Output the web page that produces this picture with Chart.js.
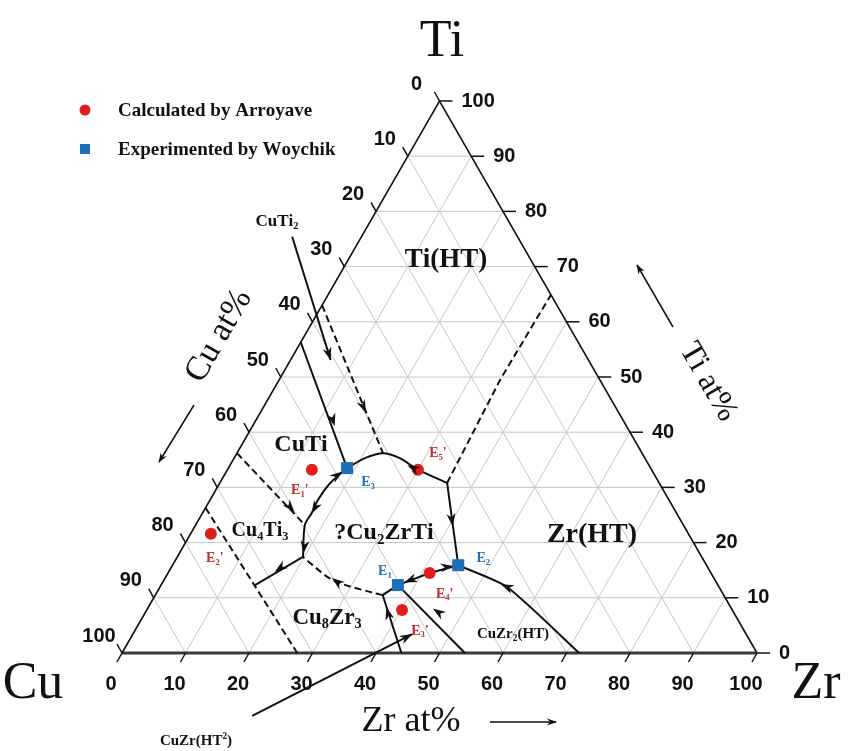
<!DOCTYPE html>
<html>
<head>
<meta charset="utf-8">
<script src="https://cdn.jsdelivr.net/npm/chart.js@4.4.0/dist/chart.umd.min.js"></script>
<style>
  html, body { margin: 0; padding: 0; background: #fff; }
  #wrap { width: 857px; height: 751px; }
</style>
</head>
<body>
<div id="wrap"><canvas id="myChart" width="857" height="751"></canvas></div>
<script>
// ternary Cu-Ti-Zr, every point is [Zr at%, Ti at%] (Cu is the rest)
const ticks = [0, 10, 20, 30, 40, 50, 60, 70, 80, 90, 100];

// phase boundary lines
const cuTiBoundary = [[0, 56.3], [18.7, 33.5]];
const tiHtDashed = [[0, 63], [23, 36.2]];
const upperValley = [[18.7, 33.5], [20.6, 35.3], [23, 36.2], [26.1, 35.3], [30, 33.2], [35.8, 30.8]];
const zrHtDashed = [[35.8, 30.8], [34.8, 49.5], [35.1, 64.9]];
const toE2Line = [[35.8, 30.8], [45, 15.9]];
const cuZr2Line = [[45, 15.9], [54.6, 12.0], [72, 0]];
const e2ToE1 = [[45, 15.9], [41.2, 14.5], [37.3, 12.3]];
const cuZrLine = [[37.3, 12.3], [54, 0]];
const e1Branch = [[37.3, 12.3], [35.8, 10.5], [44, 0]];
const cu8Zr3Dashed = [[35.8, 10.5], [34.1, 10.9], [26.6, 13.2], [19.8, 17.4]];
const e3Down = [[18.7, 33.5], [17.4, 30.8], [17.0, 27.7], [17.2, 25.5], [17.2, 23.2], [19.8, 17.4]];
const cu4Ti3Dashed = [[0, 36.2], [17.2, 23.2]];
const j4Left = [[19.8, 17.4], [14.8, 12.3]];
const cuSideDashed = [[0, 26.3], [27.6, 0]];

// pointer lines of the phase names
const cuTi2Pointer = [[-10.9, 75.4], [6.3, 53.1]];
const cuZrPointer = [[26.2, -11.4], [44.0, 3.4]];

// arrow heads on the lines: [Zr, Ti, towards Zr, towards Ti]
const arrowMarks = [
    [12.1, 42.2, 18.7, 33.5],
    [15.7, 44.6, 23, 36.2],
    [29.1, 33.5, 23, 36.2],
    [39.9, 24.1, 45, 15.9],
    [54.6, 12.0, 45, 15.9],
    [43.4, 15.6, 45, 15.9],
    [38.8, 13.2, 37.3, 12.3],
    [46.1, 7.4, 37.3, 12.3],
    [38.3, 7.2, 35.8, 10.5],
    [27.4, 12.9, 19.8, 17.4],
    [17.8, 32.2, 18.7, 33.5],
    [17.2, 26.3, 17.2, 23.2],
    [19.1, 19.2, 19.8, 17.4],
    [13.3, 26.4, 17.2, 23.2],
    [17.2, 15.4, 14.8, 12.3]
];

// invariant points
const arroyaveNames = ["E_1'", "E_2'", "E_3'", "E_4'", "E_5'"];
const arroyavePoints = [[13.3, 33.2], [3.2, 21.6], [40.2, 7.8], [41.2, 14.5], [30, 33.2]];
const woychikNames = ['E_1', 'E_2', 'E_3'];
const woychikPoints = [[37.3, 12.3], [45, 15.9], [18.7, 33.5]];

const RED = '#e01e1e';
const BLUE = '#1f6fb8';
const SERIF = '"Liberation Serif", "Times New Roman", serif';
const SANS = '"Liberation Sans", Arial, sans-serif';

// ternary -> cartesian in 0..100 units
const toXY = p => ({x: p[0] + p[1] / 2, y: p[1]});

function lineSet(points, opts) {
    return Object.assign({
        data: points.map(toXY),
        showLine: true,
        pointRadius: 0,
        borderColor: '#111',
        borderWidth: 2,
        fill: false,
        tension: 0,
        clip: false,
        order: 5
    }, opts);
}

// grid lines
const gridSets = [];
ticks.slice(1, -1).forEach(v => {
    gridSets.push(lineSet([[0, v], [100 - v, v]], {borderColor: '#c6c6c6', borderWidth: 1, order: 10}));
    gridSets.push(lineSet([[v, 0], [v, 100 - v]], {borderColor: '#c6c6c6', borderWidth: 1, order: 10}));
    gridSets.push(lineSet([[100 - v, 0], [0, 100 - v]], {borderColor: '#c6c6c6', borderWidth: 1, order: 10}));
});

const dash = [7, 4];
const datasets = gridSets.concat([
    lineSet([[100, 0], [0, 100], [0, 0]], {borderWidth: 1.6, order: 8}),
    lineSet([[0, 0], [100, 0]], {borderWidth: 3, borderColor: '#3a3a3a', order: 8}),
    lineSet(cuTiBoundary),
    lineSet(tiHtDashed, {borderDash: dash}),
    lineSet(upperValley, {tension: 0.3}),
    lineSet(zrHtDashed, {borderDash: dash}),
    lineSet(toE2Line),
    lineSet(cuZr2Line, {tension: 0.2}),
    lineSet(e2ToE1),
    lineSet(cuZrLine),
    lineSet(e1Branch),
    lineSet(cu8Zr3Dashed, {borderDash: dash, tension: 0.3}),
    lineSet(e3Down, {tension: 0.3}),
    lineSet(cu4Ti3Dashed, {borderDash: dash}),
    lineSet(j4Left),
    lineSet(cuSideDashed, {borderDash: dash}),
    lineSet(cuTi2Pointer),
    lineSet(cuZrPointer),
    {
        data: arroyavePoints.map(toXY),
        pointStyle: 'circle', pointRadius: 6, pointBackgroundColor: RED,
        pointBorderWidth: 0, showLine: false, clip: false, order: 0
    },
    {
        data: woychikPoints.map(toXY),
        pointStyle: 'rect', pointRadius: 8.5, pointBackgroundColor: BLUE,
        pointBorderWidth: 0, showLine: false, clip: false, order: 0
    }
]);

function arrowHead(ctx, x, y, ang, len, half) {
    ctx.save();
    ctx.translate(x, y);
    ctx.rotate(ang);
    ctx.beginPath();
    ctx.moveTo(len / 2, 0);
    ctx.lineTo(-len / 2, -half);
    ctx.lineTo(-len / 5, 0);
    ctx.lineTo(-len / 2, half);
    ctx.closePath();
    ctx.fill();
    ctx.restore();
}

// text with _x subscripts and ^x superscripts
function richText(ctx, str, x, y, size, color, weight, align) {
    const parts = [];
    for (let i = 0; i < str.length; i++) {
        const c = str[i];
        if ((c === '_' || c === '^') && i + 1 < str.length) {
            parts.push({t: str[i + 1], k: c});
            i++;
        } else {
            parts.push({t: c, k: ''});
        }
    }
    const fontFor = k => (weight || '') + ' ' + (k ? size * 0.62 : size) + 'px ' + SERIF;
    let total = 0;
    parts.forEach(p => { ctx.font = fontFor(p.k); p.w = ctx.measureText(p.t).width; total += p.w; });
    let cx = align === 'left' ? x : x - total / 2;
    ctx.fillStyle = color;
    ctx.textAlign = 'left';
    ctx.textBaseline = 'alphabetic';
    const base = y + size * 0.33;
    parts.forEach(p => {
        ctx.font = fontFor(p.k);
        let dy = 0;
        if (p.k === '_') dy = size * 0.2;
        if (p.k === '^') dy = -size * 0.38;
        ctx.fillText(p.t, cx, base + dy);
        cx += p.w;
    });
}

const ternaryDecor = {
    id: 'ternaryDecor',
    afterDatasetsDraw(chart) {
        const ctx = chart.ctx;
        const sx = chart.scales.x, sy = chart.scales.y;
        const px = p => { const v = toXY(p); return [sx.getPixelForValue(v.x), sy.getPixelForValue(v.y)]; };
        ctx.save();
        ctx.fillStyle = '#111';
        arrowMarks.forEach(a => {
            const p = px([a[0], a[1]]), q = px([a[2], a[3]]);
            arrowHead(ctx, p[0], p[1], Math.atan2(q[1] - p[1], q[0] - p[0]), 13, 4.5);
        });
        [cuTi2Pointer, cuZrPointer].forEach(l => {
            const p = px(l[0]), q = px(l[1]);
            const ang = Math.atan2(q[1] - p[1], q[0] - p[0]);
            arrowHead(ctx, q[0] - 6 * Math.cos(ang), q[1] - 6 * Math.sin(ang), ang, 13, 4.5);
        });

        // ticks and tick labels
        ctx.strokeStyle = '#111';
        ctx.lineWidth = 1.5;
        ctx.font = 'bold 20px ' + SANS;
        ctx.fillStyle = '#111';
        ticks.forEach(v => {
            // bottom: Zr at%
            let p = px([v, 0]);
            ctx.beginPath(); ctx.moveTo(p[0], p[1]); ctx.lineTo(p[0] - 5, p[1] + 9); ctx.stroke();
            ctx.textAlign = 'center'; ctx.textBaseline = 'middle';
            ctx.fillText(String(v), p[0] - 11, p[1] + 31);
            // left: Cu at%
            p = px([0, 100 - v]);
            ctx.beginPath(); ctx.moveTo(p[0], p[1]); ctx.lineTo(p[0] - 5, p[1] - 9); ctx.stroke();
            ctx.fillText(String(v), p[0] - 23, p[1] - 17);
            // right: Ti at%
            p = px([100 - v, v]);
            ctx.beginPath(); ctx.moveTo(p[0], p[1]); ctx.lineTo(p[0] + 13, p[1]); ctx.stroke();
            ctx.textAlign = 'left';
            ctx.fillText(String(v), p[0] + 22, p[1]);
        });

        // element corners and axis titles
        ctx.fillStyle = '#111';
        ctx.textAlign = 'center'; ctx.textBaseline = 'middle';
        ctx.font = '52px ' + SERIF;
        ctx.fillText('Ti', 442, 42);
        ctx.fillText('Cu', 33, 684);
        ctx.fillText('Zr', 816, 684);
        ctx.font = '36px ' + SERIF;
        ctx.fillText('Zr at%', 411, 722);
        ctx.font = '34px ' + SERIF;
        ctx.save(); ctx.translate(219, 336); ctx.rotate(-Math.PI / 3);
        ctx.fillText('Cu at%', 0, 0); ctx.restore();
        ctx.save(); ctx.translate(708, 382); ctx.rotate(Math.PI / 3);
        ctx.font = '32px ' + SERIF;
        ctx.fillText('Ti at%', 0, 0); ctx.restore();

        // axis direction arrows
        ctx.lineWidth = 1.5;
        [[490, 722, 556, 722], [194, 405, 159, 462], [673, 327, 637, 265]].forEach(a => {
            ctx.beginPath(); ctx.moveTo(a[0], a[1]); ctx.lineTo(a[2], a[3]); ctx.stroke();
            const ang = Math.atan2(a[3] - a[1], a[2] - a[0]);
            arrowHead(ctx, a[2] - 4 * Math.cos(ang), a[3] - 4 * Math.sin(ang), ang, 10, 3.5);
        });

        // phase names
        richText(ctx, 'CuTi_2', 277, 220, 17, '#111', 'bold');
        richText(ctx, 'Ti(HT)', 446, 258, 27, '#111', 'bold');
        richText(ctx, 'CuTi', 301, 443, 24, '#111', 'bold');
        richText(ctx, 'Cu_4Ti_3', 260, 529, 20, '#111', 'bold');
        richText(ctx, '?Cu_2ZrTi', 384, 531, 24, '#111', 'bold');
        richText(ctx, 'Zr(HT)', 592, 533, 28, '#111', 'bold');
        richText(ctx, 'Cu_8Zr_3', 327, 616, 23, '#111', 'bold');
        richText(ctx, 'CuZr_2(HT)', 513, 633, 15, '#111', 'bold');
        richText(ctx, 'CuZr(HT^2)', 196, 740, 15, '#111', 'bold');

        // invariant point names
        const redOff = [[-12, 20], [4, 24], [18, 20], [15, 20], [20, -17]];
        arroyavePoints.forEach((pt, i) => {
            const p = px(pt);
            richText(ctx, arroyaveNames[i], p[0] + redOff[i][0], p[1] + redOff[i][1], 14, '#c0282a', 'bold');
        });
        const blueOff = [[-13, -15], [25, -8], [21, 13]];
        woychikPoints.forEach((pt, i) => {
            const p = px(pt);
            richText(ctx, woychikNames[i], p[0] + blueOff[i][0], p[1] + blueOff[i][1], 14, BLUE, 'bold');
        });

        // legend
        ctx.fillStyle = RED;
        ctx.beginPath(); ctx.arc(85, 110, 5.5, 0, Math.PI * 2); ctx.fill();
        ctx.fillStyle = BLUE;
        ctx.fillRect(80, 144, 10, 10);
        richText(ctx, 'Calculated by Arroyave', 118, 110, 19, '#111', 'bold', 'left');
        richText(ctx, 'Experimented by Woychik', 118, 149, 19, '#111', 'bold', 'left');
        ctx.restore();
    }
};

const config = {
    type: 'scatter',
    data: {datasets: datasets},
    options: {
        responsive: false,
        animation: false,
        layout: {padding: {left: 122, right: 100, top: 101, bottom: 98}},
        scales: {
            x: {type: 'linear', min: 0, max: 100, display: false},
            y: {type: 'linear', min: 0, max: 100, display: false}
        },
        plugins: {legend: {display: false}, tooltip: {enabled: false}}
    },
    plugins: [ternaryDecor]
};

const myChart = new Chart(document.getElementById('myChart'), config);
</script>
</body>
</html>
